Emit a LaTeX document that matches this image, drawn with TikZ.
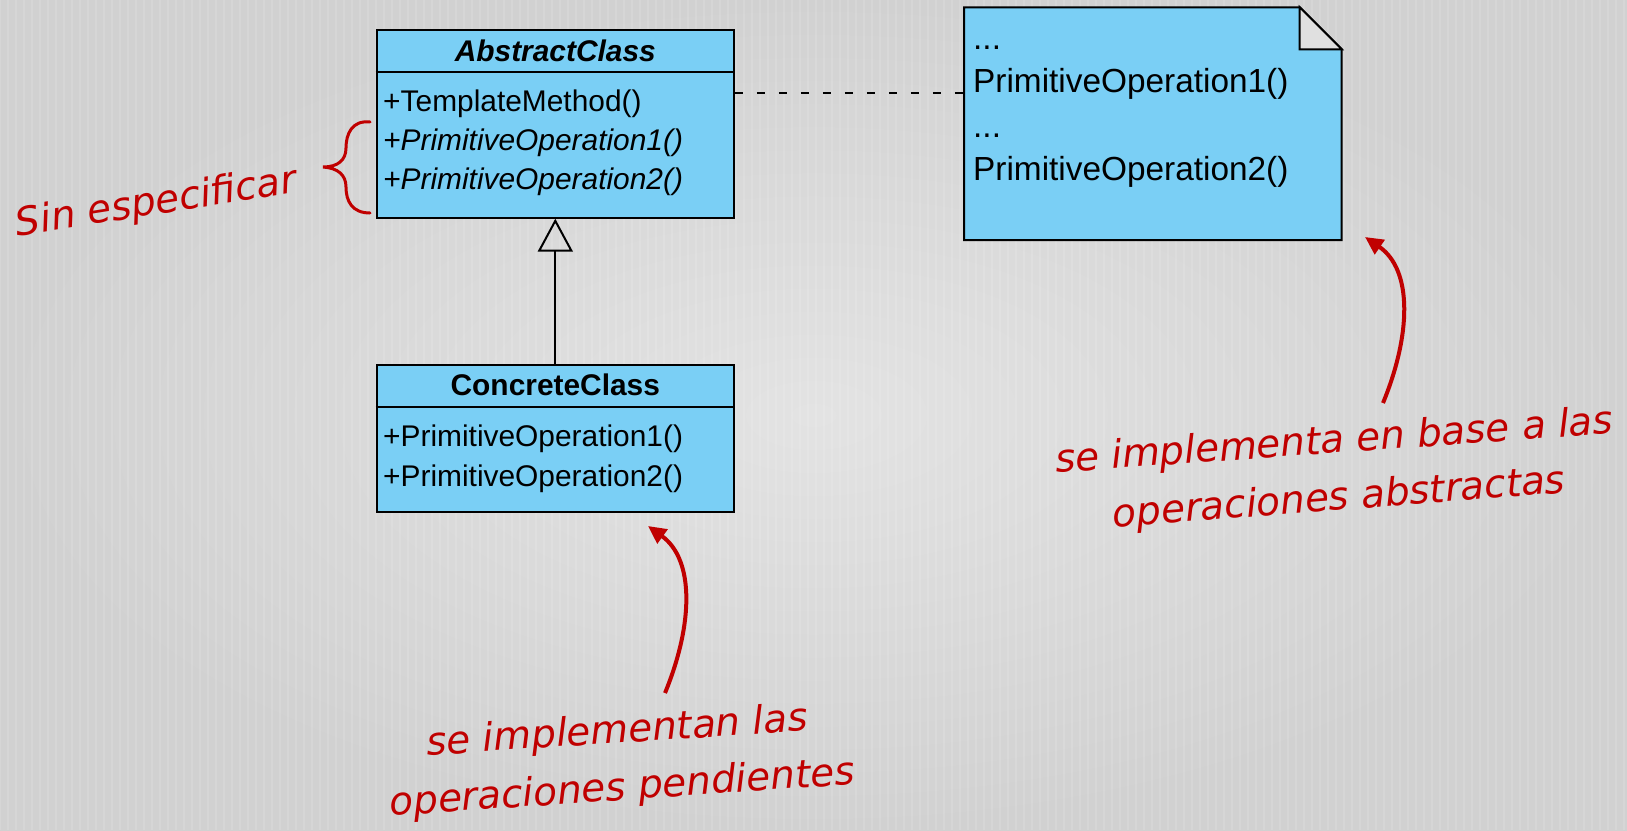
\documentclass[tikz,border=0pt]{standalone}
\usepackage{fontspec}
\setmainfont{Liberation Sans}
\newfontfamily\handfont{DejaVu Sans}
\usetikzlibrary{arrows.meta,calc}

\definecolor{umlblue}{RGB}{122,207,245}
\definecolor{remarkred}{RGB}{192,0,0}
\definecolor{bginner}{RGB}{227,227,227}
\definecolor{bgouter}{RGB}{209,209,209}
\definecolor{foldgray}{RGB}{224,224,224}

\begin{document}
\begin{tikzpicture}[x=1bp,y=-1bp,
  classbox/.style={draw=black, fill=umlblue, line width=2bp, rectangle,
    inner sep=0pt, minimum width=357.3bp},
  classname/.style={anchor=base, inner sep=0pt,
    font=\bfseries\fontsize{30}{36}\selectfont},
  member/.style={anchor=base west, inner sep=0pt,
    font=\fontsize{30}{36}\selectfont},
  abstractmember/.style={anchor=base west, inner sep=0pt,
    font=\itshape\fontsize{30}{36}\selectfont},
  notetext/.style={anchor=base west, inner sep=0pt,
    font=\fontsize{33.5}{40}\selectfont},
  remark/.style={anchor=base, inner sep=0pt, text=remarkred,
    font=\handfont\itshape\fontsize{39}{47}\selectfont},
  redarrow/.style={draw=remarkred, line width=4bp,
    -{Triangle[length=18bp,width=17bp]}},
  bracestyle/.style={draw=remarkred, line width=3bp, line cap=round},
]

% canvas
\useasboundingbox (0,0) rectangle (1627,830);
\shade[inner color=bginner, outer color=bgouter] (0,0) rectangle (1627,830);
\draw[white, opacity=0.12, line width=1.5bp, step=8] (0,0) grid (1627,830);

% helper heights
\coordinate (asep) at (0,72.3);
\coordinate (csep) at (0,407);
\coordinate (dashy) at (0,93);

% AbstractClass
\node[classbox, minimum height=187.7bp] (abstract) at (555.3,123.85) {};
\draw[line width=2bp] (abstract.west |- asep) -- (abstract.east |- asep);
\node[classname, font=\bfseries\itshape\fontsize{30}{36}\selectfont] (abstractname) at (555.3,61.7) {AbstractClass};
\node[member] (tm) at (383,111) {+TemplateMethod()};
\node[abstractmember] (apo1) at (383,150) {+PrimitiveOperation1()};
\node[abstractmember] (apo2) at (383,189) {+PrimitiveOperation2()};

% ConcreteClass
\node[classbox, minimum height=147bp] (concrete) at (555.3,438.5) {};
\draw[line width=2bp] (concrete.west |- csep) -- (concrete.east |- csep);
\node[classname] (concretename) at (555.3,395) {ConcreteClass};
\node[member] (cpo1) at (383,446.7) {+PrimitiveOperation1()};
\node[member] (cpo2) at (383,486.7) {+PrimitiveOperation2()};

% generalisation
\draw[line width=2bp, -{Triangle[open, length=33bp, width=35bp, line width=2bp]}]
  (concrete.north) -- (abstract.south);

% note with folded corner
\node[inner sep=0pt, outer sep=0pt, minimum width=377.7bp, minimum height=232.7bp] (note) at (1152.85,123.65) {};
\coordinate (foldA) at ($(note.north east)+(-42,0)$);
\coordinate (foldB) at ($(note.north east)+(0,42)$);
\coordinate (foldC) at ($(note.north east)+(-42,42)$);
\filldraw[fill=umlblue, draw=black, line width=2bp, line join=miter]
  (note.north west) -- (foldA) -- (foldB) -- (note.south east) -- (note.south west) -- cycle;
\filldraw[fill=foldgray, draw=black, line width=2bp, line join=miter]
  (foldA) -- (foldC) -- (foldB) -- cycle;
\node[notetext] (dots1) at (973,49) {...};
\node[notetext] (nop1) at (973,92) {PrimitiveOperation1()};
\node[notetext] (dots2) at (973,137) {...};
\node[notetext] (nop2) at (973,180) {PrimitiveOperation2()};

% note attachment
\draw[line width=1.5bp, dash pattern=on 8bp off 14bp]
  (abstract.east |- dashy) -- (note.west |- dashy);

% brace over the abstract operations
\draw[bracestyle] (370,122) .. controls (352,120) and (346,134) .. (346,148)
  .. controls (346,160) and (338,167) .. (323,167)
  .. controls (338,168) and (346,175) .. (346,187)
  .. controls (346,201) and (352,213) .. (370,213);
\node[remark, rotate=9] (sinesp) at (158,214) {Sin especificar};

% remark on the concrete class
\coordinate (tailA) at (665,693);
\coordinate (tipA) at (648,526);
\draw[redarrow] (tailA) .. controls (693,625) and (695,560) .. (tipA);
\node[remark, rotate=3.7] (remA1) at (618,743) {se implementan las};
\node[remark, rotate=3.9] (remA2) at (623,800) {operaciones pendientes};

% remark on the note
\coordinate (tailB) at (1383,403);
\coordinate (tipB) at (1365,237);
\draw[redarrow] (tailB) .. controls (1411,335) and (1413,270) .. (tipB);
\node[remark, rotate=4] (remB1) at (1335,453) {se implementa en base a las};
\node[remark, rotate=4.4] (remB2) at (1340,510) {operaciones abstractas};

\end{tikzpicture}
\end{document}
